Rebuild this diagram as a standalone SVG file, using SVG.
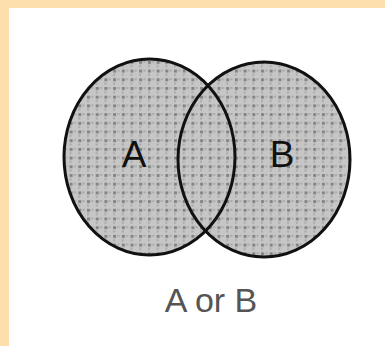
<svg xmlns="http://www.w3.org/2000/svg" width="385" height="346" viewBox="0 0 385 346">
<defs>
<pattern id="dots" x="0" y="0" width="8.7" height="8.7" patternUnits="userSpaceOnUse">
<rect width="8.7" height="8.7" fill="#c6c6c6"/>
<rect x="0" y="0" width="3" height="3" fill="#858585"/>
<rect x="4.3" y="0" width="2" height="2" fill="#a8a8a8"/>
<rect x="0" y="4.3" width="2" height="2" fill="#a8a8a8"/>
</pattern>
<style>
.fill{fill:url(#dots);stroke:none}
.edge{fill:none;stroke:#111;stroke-width:3}
.lbl{font-family:"Liberation Sans",Arial,sans-serif;font-size:37px;fill:#111;text-anchor:middle}
.cap{font-family:"Liberation Sans",Arial,sans-serif;font-size:34px;fill:#555;text-anchor:middle}
</style>
</defs>
<rect width="385" height="346" fill="#ffffff"/>
<rect x="0" y="0" width="385" height="8" fill="#fddfae"/>
<rect x="0" y="0" width="9" height="346" fill="#fddfae"/>
<g id="fills">
<ellipse class="fill" cx="149.5" cy="157" rx="85.5" ry="98"/>
<ellipse class="fill" cx="264" cy="159.5" rx="86" ry="97.5"/>
</g>
<g id="A">
<ellipse class="edge" cx="149.5" cy="157" rx="85.5" ry="98"/>
<text class="lbl" x="134" y="167">A</text>
</g>
<g id="B">
<ellipse class="edge" cx="264" cy="159.5" rx="86" ry="97.5"/>
<text class="lbl" x="282" y="167">B</text>
</g>
<g id="caption">
<text class="cap" x="211" y="312">A or B</text>
</g>
</svg>
